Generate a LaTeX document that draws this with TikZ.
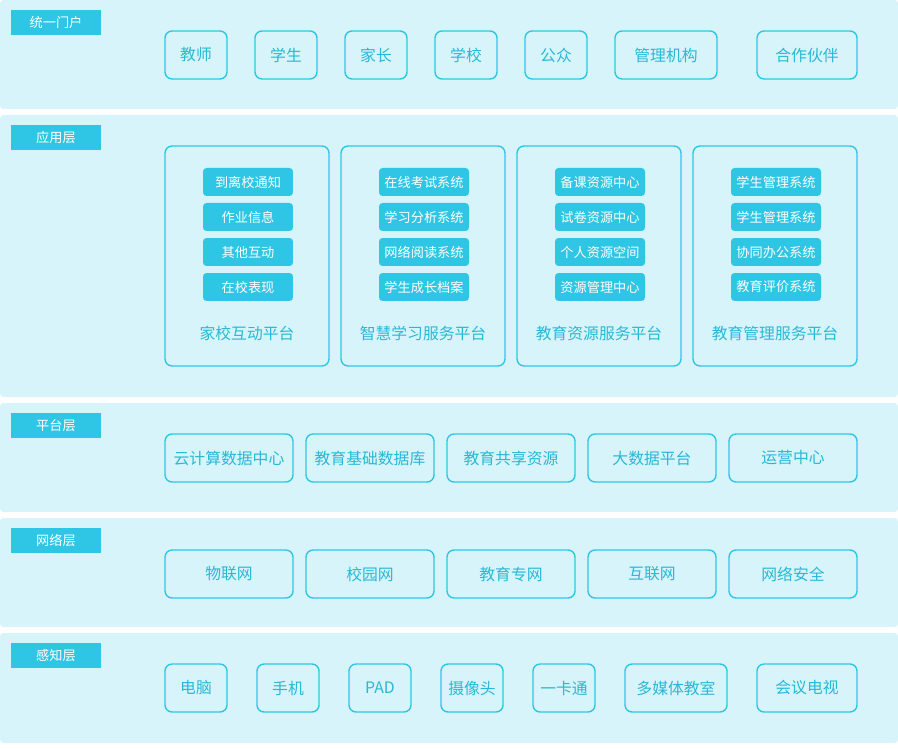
\documentclass[tikz,border=0pt]{standalone}
\usepackage{fontspec}
\setmainfont{Noto Sans CJK SC}
\usepackage{tikz}
\usetikzlibrary{positioning}
\definecolor{band}{HTML}{D6F4FA}
\definecolor{cyanbox}{HTML}{2EC6E4}
\definecolor{cyantext}{HTML}{29B8D6}
\tikzset{
  layer/.style={fill=band,draw=none,rounded corners=2pt},
  tag/.style={fill=cyanbox,text=white,minimum width=0.9*2cm,minimum height=0.5cm,inner sep=0pt,font=\fontsize{7.5}{8}\selectfont},
  item/.style={draw=cyanbox,line width=0.8pt,rounded corners=4pt,text=cyantext,inner sep=0pt,font=\fontsize{9}{10}\selectfont},
  sub/.style={fill=cyanbox,text=white,rounded corners=2pt,minimum width=1.8cm,minimum height=0.56cm,inner sep=0pt,font=\fontsize{7.5}{8}\selectfont}
}
\begin{document}
\begin{tikzpicture}[x=0.02cm,y=-0.02cm]
  \useasboundingbox (0,0) rectangle (898,749);

  % layers
  \foreach \ya/\yb/\name [count=\i] in {0/109/统一门户,115/397/应用层,403/512/平台层,518/627/网络层,633/743/感知层}{
    \fill[layer] (0,\ya) rectangle (898,\yb);
    \node[tag] (tag\i) at (56,\ya+22.5) {\name};
  }

  % portal
  \foreach \xa/\xb/\t [count=\i] in {165/227/教师,255/317/学生,345/407/家长,435/497/学校,525/587/公众,615/717/管理机构,757/857/合作伙伴}
    \node[item,minimum width=(\xb-\xa)*0.02cm,minimum height=0.96cm] (user\i) at ({(\xa+\xb)/2},55) {\t};

  % application platforms
  \foreach \xa/\t/\a/\b/\c/\d [count=\i] in {
    165/家校互动平台/到离校通知/作业信息/其他互动/在校表现,
    341/智慧学习服务平台/在线考试系统/学习分析系统/网络阅读系统/学生成长档案,
    517/教育资源服务平台/备课资源中心/试卷资源中心/个人资源空间/资源管理中心,
    693/教育管理服务平台/学生管理系统/学生管理系统/协同办公系统/教育评价系统}{
    \node[item,minimum width=3.28cm,minimum height=4.4cm] (app\i) at (\xa+82,256) {};
    \node[text=cyantext,font=\fontsize{9}{10}\selectfont] (apptitle\i) at (\xa+82,333) {\t};
    \node[sub] (app\i a) at (\xa+83,182) {\a};
    \node[sub] (app\i b) at (\xa+83,217) {\b};
    \node[sub] (app\i c) at (\xa+83,252) {\c};
    \node[sub] (app\i d) at (\xa+83,287) {\d};
  }

  % platform
  \foreach \x/\t [count=\i] in {229/云计算数据中心,370/教育基础数据库,511/教育共享资源,652/大数据平台,793/运营中心}
    \node[item,minimum width=2.56cm,minimum height=0.96cm] (plat\i) at (\x,458) {\t};

  % network
  \foreach \x/\t [count=\i] in {229/物联网,370/校园网,511/教育专网,652/互联网,793/网络安全}
    \node[item,minimum width=2.56cm,minimum height=0.96cm] (net\i) at (\x,574) {\t};

  % sensing
  \foreach \xa/\xb/\t [count=\i] in {165/227/电脑,257/319/手机,349/411/PAD,441/503/摄像头,533/595/一卡通,625/727/多媒体教室,757/857/会议电视}
    \node[item,minimum width=(\xb-\xa)*0.02cm,minimum height=0.96cm] (dev\i) at ({(\xa+\xb)/2},688) {\t};
\end{tikzpicture}
\end{document}
